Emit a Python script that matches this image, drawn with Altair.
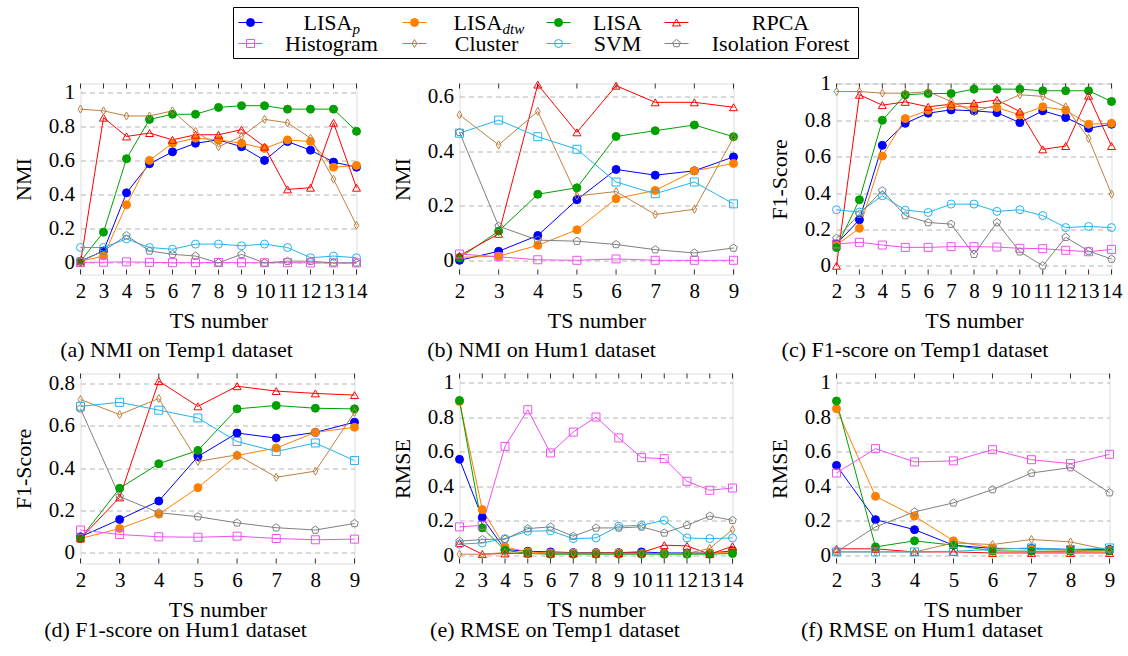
import altair as alt
import pandas as pd

FONT = "Liberation Serif"

# ---------------- data ----------------
SERIES = ["LISA_p", "LISA_dtw", "LISA", "RPCA", "Histogram", "Cluster", "SVM", "Isolation Forest"]

TS_TEMP = list(range(2, 15))
TS_HUM = list(range(2, 10))

# (a) NMI on Temp1
a_lisap = [0.01, 0.07, 0.41, 0.58, 0.65, 0.70, 0.72, 0.68, 0.60, 0.71, 0.66, 0.59, 0.56]
a_lisadtw = [0.01, 0.04, 0.34, 0.60, 0.70, 0.73, 0.72, 0.70, 0.67, 0.72, 0.71, 0.56, 0.57]
a_lisa = [0.01, 0.18, 0.61, 0.84, 0.87, 0.87, 0.91, 0.92, 0.92, 0.90, 0.90, 0.90, 0.77]
a_rpca = [0.0, 0.85, 0.74, 0.76, 0.72, 0.75, 0.75, 0.78, 0.68, 0.43, 0.44, 0.82, 0.44]
a_hist = [0.003, 0.004, 0.006, 0.003, 0.001, 0.001, 0.002, 0.001, 0.001, 0.001, 0.0, 0.0, 0.0]
a_cluster = [0.90, 0.89, 0.86, 0.86, 0.89, 0.77, 0.68, 0.74, 0.84, 0.82, 0.73, 0.49, 0.22]
a_svm = [0.09, 0.09, 0.14, 0.09, 0.08, 0.11, 0.11, 0.10, 0.11, 0.09, 0.03, 0.04, 0.03]
a_iforest = [0.01, 0.07, 0.16, 0.07, 0.05, 0.04, 0.0, 0.05, 0.0, 0.01, 0.01, 0.0, 0.0]

# (b) NMI on Hum1
b_lisap = [0.0, 0.033, 0.091, 0.222, 0.333, 0.312, 0.328, 0.379]
b_lisadtw = [0.011, 0.015, 0.055, 0.112, 0.226, 0.256, 0.328, 0.355]
b_lisa = [0.009, 0.107, 0.242, 0.266, 0.454, 0.475, 0.496, 0.453]
b_rpca = [0.017, 0.097, 0.644, 0.469, 0.640, 0.579, 0.579, 0.561]
b_hist = [0.023, 0.013, 0.002, 0.0, 0.005, 0.0, 0.0, 0.0]
b_cluster = [0.533, 0.423, 0.546, 0.236, 0.252, 0.168, 0.187, 0.450]
b_svm = [0.466, 0.514, 0.453, 0.407, 0.287, 0.244, 0.287, 0.207]
b_iforest = [0.469, 0.125, 0.074, 0.070, 0.058, 0.039, 0.027, 0.045]

# (c) F1-score on Temp1
c_lisap = [0.12, 0.253, 0.662, 0.783, 0.839, 0.857, 0.852, 0.842, 0.787, 0.852, 0.815, 0.756, 0.778]
c_lisadtw = [0.114, 0.206, 0.603, 0.809, 0.855, 0.879, 0.870, 0.870, 0.829, 0.874, 0.855, 0.778, 0.783]
c_lisa = [0.10, 0.363, 0.80, 0.94, 0.947, 0.947, 0.971, 0.971, 0.971, 0.962, 0.962, 0.962, 0.903]
c_rpca = [0.0, 0.94, 0.883, 0.901, 0.874, 0.888, 0.894, 0.912, 0.848, 0.64, 0.658, 0.935, 0.658]
c_hist = [0.12, 0.129, 0.114, 0.101, 0.101, 0.105, 0.105, 0.103, 0.096, 0.094, 0.085, 0.077, 0.09]
c_cluster = [0.958, 0.958, 0.949, 0.949, 0.957, 0.903, 0.846, 0.885, 0.94, 0.931, 0.874, 0.70, 0.394]
c_svm = [0.308, 0.295, 0.385, 0.306, 0.293, 0.339, 0.339, 0.299, 0.308, 0.276, 0.21, 0.216, 0.21]
c_iforest = [0.151, 0.284, 0.413, 0.276, 0.238, 0.229, 0.063, 0.238, 0.077, 0.0, 0.157, 0.081, 0.037]

# (d) F1-score on Hum1
d_lisap = [0.076, 0.158, 0.245, 0.455, 0.566, 0.542, 0.569, 0.617]
d_lisadtw = [0.068, 0.115, 0.183, 0.308, 0.46, 0.495, 0.569, 0.593]
d_lisa = [0.068, 0.305, 0.421, 0.484, 0.68, 0.696, 0.683, 0.68]
d_rpca = [0.068, 0.262, 0.811, 0.692, 0.787, 0.764, 0.753, 0.745]
d_hist = [0.108, 0.087, 0.076, 0.074, 0.079, 0.068, 0.062, 0.065]
d_cluster = [0.724, 0.653, 0.729, 0.432, 0.463, 0.357, 0.386, 0.664]
d_svm = [0.692, 0.711, 0.674, 0.637, 0.526, 0.479, 0.519, 0.436]
d_iforest = [0.681, 0.266, 0.19, 0.171, 0.142, 0.119, 0.108, 0.139]

# (e) RMSE on Temp1
e_lisap = [0.555, 0.218, 0.033, 0.023, 0.019, 0.015, 0.015, 0.015, 0.019, 0.013, 0.013, 0.012, 0.025]
e_lisadtw = [0.89, 0.264, 0.048, 0.019, 0.013, 0.013, 0.013, 0.013, 0.01, 0.01, 0.01, 0.013, 0.019]
e_lisa = [0.896, 0.158, 0.029, 0.01, 0.006, 0.006, 0.006, 0.006, 0.006, 0.006, 0.006, 0.006, 0.01]
e_rpca = [0.071, 0.006, 0.01, 0.01, 0.01, 0.01, 0.01, 0.012, 0.015, 0.058, 0.054, 0.006, 0.052]
e_hist = [0.164, 0.173, 0.63, 0.842, 0.592, 0.713, 0.80, 0.679, 0.565, 0.559, 0.428, 0.376, 0.389]
e_cluster = [0.006, 0.006, 0.015, 0.01, 0.01, 0.01, 0.01, 0.01, 0.01, 0.01, 0.01, 0.039, 0.148]
e_svm = [0.064, 0.071, 0.096, 0.139, 0.141, 0.096, 0.1, 0.168, 0.173, 0.202, 0.1, 0.096, 0.1]
e_iforest = [0.081, 0.091, 0.093, 0.154, 0.164, 0.11, 0.158, 0.158, 0.164, 0.129, 0.173, 0.227, 0.202]

# (f) RMSE on Hum1
f_lisap = [0.52, 0.206, 0.148, 0.058, 0.039, 0.039, 0.033, 0.033]
f_lisadtw = [0.848, 0.341, 0.226, 0.083, 0.042, 0.035, 0.029, 0.029]
f_lisa = [0.893, 0.048, 0.083, 0.058, 0.025, 0.023, 0.023, 0.025]
f_rpca = [0.037, 0.037, 0.019, 0.019, 0.013, 0.013, 0.013, 0.013]
f_hist = [0.476, 0.617, 0.54, 0.546, 0.611, 0.553, 0.53, 0.584]
f_cluster = [0.019, 0.019, 0.019, 0.071, 0.062, 0.091, 0.077, 0.029]
f_svm = [0.019, 0.019, 0.019, 0.023, 0.033, 0.042, 0.033, 0.042]
f_iforest = [0.019, 0.164, 0.251, 0.303, 0.38, 0.476, 0.507, 0.362]

# ---------------- styles ----------------
COLORS = ["#0000FF", "#FF8000", "#00A000", "#FF0000", "#F050F0", "#BF8040", "#22B4F2", "#808080"]
FILLS = ["#0000FF", "#FF8000", "#00A000", "transparent", "transparent", "transparent", "transparent", "transparent"]
SIZES = [64, 64, 64, 60, 50, 40, 50, 50]
MARKERS = ["dot", "tri", "sq", "dia", "ring", "pent"]
MARKER_SHAPES = ["circle", "triangle-up", "square", "M0,-1L0.6,0L0,1L-0.6,0Z", "circle",
                 "M0,-1L0.951,-0.309L0.588,0.809L-0.588,0.809L-0.951,-0.309Z"]
TEMP_MARKERS = ["dot", "dot", "dot", "tri", "sq", "dia", "ring", "pent"]
HUM_MARKERS = ["dot", "dot", "dot", "tri", "sq", "dia", "sq", "pent"]

color_enc = alt.Color("series:N", scale=alt.Scale(domain=SERIES, range=COLORS), legend=None)
stroke_enc = alt.Stroke("series:N", scale=alt.Scale(domain=SERIES, range=COLORS), legend=None)
fill_enc = alt.Fill("series:N", scale=alt.Scale(domain=SERIES, range=FILLS), legend=None)
size_enc = alt.Size("series:O", scale=alt.Scale(domain=SERIES, range=SIZES), legend=None)
shape_enc = alt.Shape("marker:N", scale=alt.Scale(domain=MARKERS, range=MARKER_SHAPES), legend=None)

# ---------------- legend (drawn above panel a) ----------------
LEG_MAIN = ["LISA", "LISA", "LISA", "RPCA", "Histogram", "Cluster", "SVM", "Isolation Forest"]
LEG_SUB = ["p", "dtw", "", "", "", "", "", ""]
LEG_MARKERS = ["dot", "dot", "dot", "tri", "sq", "dia", "ring", "pent"]
LEG_W, LEG_H = 625, 51
LEG_SYM_X = [17, 181, 325, 443]
LEG_TEXT_X = [98, 253, 384, 547]
LEG_ROW_Y = [15, 36]
LEG_SUB_X = [119, 269]
# placement of the legend box relative to panel (a)'s plot area
LEG_RANGE_X = [153, 153 + LEG_W]
LEG_RANGE_Y = [-76, -76 + LEG_H]


def make_legend():
    lrecs = []
    for i, (s, mn, sb, mk) in enumerate(zip(SERIES, LEG_MAIN, LEG_SUB, LEG_MARKERS)):
        col, row = i % 4, i // 4
        lrecs.append({"series": s, "main": mn, "sub": sb, "marker": mk,
                      "lx": LEG_SYM_X[col], "x0": LEG_SYM_X[col] - 12, "x1": LEG_SYM_X[col] + 12,
                      "ly": LEG_ROW_Y[row], "tx": LEG_TEXT_X[col],
                      "ax": LEG_SUB_X[col] if sb else LEG_TEXT_X[col]})
    ldf = pd.DataFrame(lrecs)
    lxs = alt.Scale(domain=[0, LEG_W], range=LEG_RANGE_X, nice=False, zero=False)
    lys = alt.Scale(domain=[0, LEG_H], range=LEG_RANGE_Y, nice=False, zero=False)
    box = alt.Chart(pd.DataFrame({"bx0": [0], "bx1": [LEG_W], "by0": [0], "by1": [LEG_H]})).mark_rect(
        fill="white", stroke="black", strokeWidth=1).encode(
        x=alt.X("bx0:Q", scale=lxs, axis=None), x2="bx1:Q",
        y=alt.Y("by0:Q", scale=lys, axis=None), y2="by1:Q")
    lbase = alt.Chart(ldf)
    lx = lambda f: alt.X(f, scale=lxs, axis=None)
    ly = alt.Y("ly:Q", scale=lys, axis=None)
    l_rule = lbase.mark_rule(strokeWidth=1).encode(x=lx("x0:Q"), x2="x1:Q", y=ly, color=color_enc)
    l_pts = lbase.mark_point(filled=True, opacity=1, strokeWidth=1).encode(
        x=lx("lx:Q"), y=ly, shape=shape_enc, fill=fill_enc, stroke=stroke_enc, size=size_enc)
    l_txt = lbase.transform_filter(alt.datum.sub == "").mark_text(
        align="center", baseline="middle", fontSize=22, font=FONT, color="black").encode(
        x=lx("tx:Q"), y=ly, text="main:N")
    l_txt2 = lbase.transform_filter(alt.datum.sub != "").mark_text(
        align="right", baseline="middle", fontSize=22, font=FONT, color="black").encode(
        x=lx("ax:Q"), y=ly, text="main:N")
    l_sub = lbase.transform_filter(alt.datum.sub != "").mark_text(
        align="left", baseline="middle", fontSize=15, font=FONT, fontStyle="italic", dy=6,
        color="black").encode(x=lx("ax:Q"), y=ly, text="sub:N")
    return alt.layer(box, l_rule, l_pts, l_txt, l_txt2, l_sub)


def panel(xs, vals, markers, ydom, yticks, ytitle, caption, w, h, cap_off, cap_dx, with_legend=False):
    recs = []
    for s, m, ys in zip(SERIES, markers, vals):
        for xv, yv in zip(xs, ys):
            recs.append({"ts": xv, "val": yv, "series": s, "marker": m})
    df = pd.DataFrame(recs)
    xax = alt.Axis(values=xs, title="TS number", grid=False, ticks=False, domain=False,
                   labelPadding=6, labelFontSize=21, labelOverlap=False, labelFlush=False,
                   labelFont=FONT, labelColor="black", titleFont=FONT, titleFontSize=22,
                   titleFontWeight="normal", titleColor="black", titleX=w / 2, titleY=46,
                   titleBaseline="middle", titleAlign="center")
    yax = alt.Axis(values=yticks, format="~g", title=ytitle, grid=True, gridDash=[5, 4],
                   gridColor="#b4b4b4", gridWidth=1, ticks=False, domain=False, labelPadding=6,
                   labelFontSize=21, labelFont=FONT, labelColor="black", labelOverlap=False,
                   labelFlush=False, titleFont=FONT, titleFontSize=22, titleFontWeight="normal",
                   titleColor="black", titleX=-57, titleY=h / 2, titleAngle=270,
                   titleBaseline="middle", titleAlign="center")
    x = alt.X("ts:Q", scale=alt.Scale(domain=[xs[0], xs[-1]], nice=False, zero=False), axis=xax)
    y = alt.Y("val:Q", scale=alt.Scale(domain=ydom, nice=False, zero=False), axis=yax)
    lines = alt.Chart(df).mark_line(strokeWidth=1).encode(x=x, y=y, color=color_enc, order="ts:Q")
    pts = alt.Chart(df).mark_point(filled=True, opacity=1, strokeWidth=1).encode(
        x=x, y=y, shape=shape_enc, fill=fill_enc, stroke=stroke_enc, size=size_enc)
    tdf = pd.DataFrame({"ts": xs})
    tick_top = alt.Chart(tdf).mark_rule(color="black", strokeWidth=0.8).encode(
        x=x, y=alt.value(0), y2=alt.value(5))
    tick_bot = alt.Chart(tdf).mark_rule(color="black", strokeWidth=0.8).encode(
        x=x, y=alt.value(h), y2=alt.value(h - 5))
    body = alt.layer(lines, tick_top, tick_bot, pts)
    if with_legend:
        body = alt.layer(body, make_legend()).resolve_scale(x="independent", y="independent")
    return body.properties(
        width=w, height=h,
        title=alt.TitleParams(caption, orient="bottom", anchor="middle", frame="group",
                              offset=cap_off, dx=cap_dx, fontSize=22, font=FONT,
                              fontWeight="normal", color="black"))


Y10 = [0, 0.2, 0.4, 0.6, 0.8, 1]
pa = panel(TS_TEMP, [a_lisap, a_lisadtw, a_lisa, a_rpca, a_hist, a_cluster, a_svm, a_iforest],
           TEMP_MARKERS, [-0.068, 1.05], Y10, "NMI", "(a) NMI on Temp1 dataset", 276, 191, 8, -42,
           with_legend=True)
pb = panel(TS_HUM, [b_lisap, b_lisadtw, b_lisa, b_rpca, b_hist, b_cluster, b_svm, b_iforest],
           HUM_MARKERS, [-0.052, 0.648], [0, 0.2, 0.4, 0.6], "NMI", "(b) NMI on Hum1 dataset",
           274, 191, 8, -55)
pc = panel(TS_TEMP, [c_lisap, c_lisadtw, c_lisa, c_rpca, c_hist, c_cluster, c_svm, c_iforest],
           TEMP_MARKERS, [-0.048, 1.002], Y10, "F1-Score", "(c) F1-score on Temp1 dataset",
           275, 191, 8, -59)
pd_ = panel(TS_HUM, [d_lisap, d_lisadtw, d_lisa, d_rpca, d_hist, d_cluster, d_svm, d_iforest],
            HUM_MARKERS, [-0.05, 0.847], [0, 0.2, 0.4, 0.6, 0.8], "F1-Score",
            "(d) F1-score on Hum1 dataset", 274, 190, -1, -42)
pe = panel(TS_TEMP, [e_lisap, e_lisadtw, e_lisa, e_rpca, e_hist, e_cluster, e_svm, e_iforest],
           TEMP_MARKERS, [-0.048, 1.052], Y10, "RMSE", "(e) RMSE on Temp1 dataset", 273, 190, -1, -41)
pf = panel(TS_HUM, [f_lisap, f_lisadtw, f_lisa, f_rpca, f_hist, f_cluster, f_svm, f_iforest],
           HUM_MARKERS, [-0.048, 1.052], Y10, "RMSE", "(f) RMSE on Hum1 dataset", 273, 190, -1, -51)

chart = alt.concat(pa, pb, pc, pd_, pe, pf, columns=3, spacing={"row": 99, "column": 103},
                   bounds="flush").properties(
    padding={"left": 11.5, "top": 6.5, "right": 2, "bottom": 2}
).configure_view(stroke="black", strokeWidth=1).configure(font=FONT)

chart.save("out.html", embed_options={"renderer": "svg", "actions": False})
